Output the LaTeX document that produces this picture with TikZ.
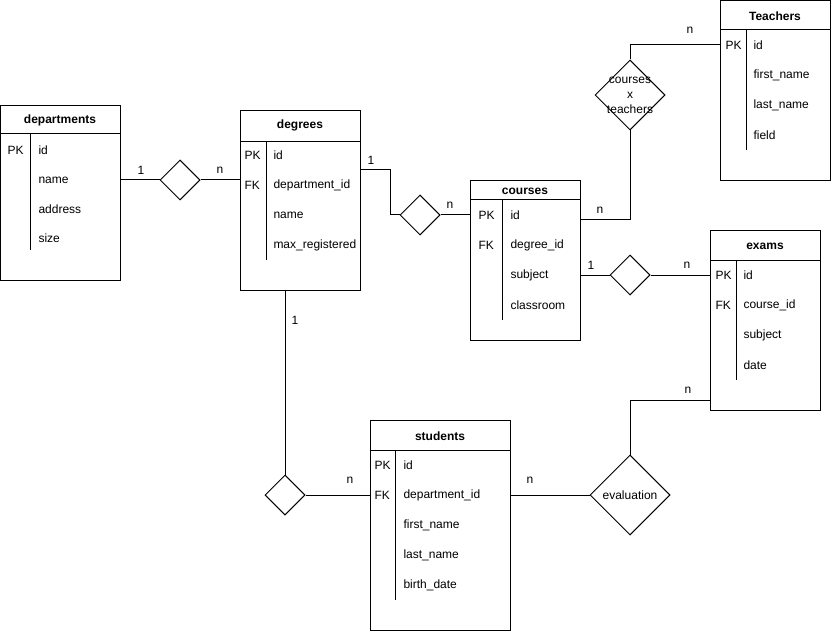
\documentclass[tikz,border=0pt]{standalone}
\usepackage{fontspec}
\setmainfont{Liberation Sans}
\usetikzlibrary{shapes.geometric}

\begin{document}
\begin{tikzpicture}[x=1bp,y=-1bp,line width=1bp,
  every node/.style={font=\fontsize{12bp}{15bp}\selectfont},
  tbl/.style={draw,rectangle,anchor=north west,inner sep=0pt},
  hdr/.style={font=\fontsize{12bp}{15bp}\selectfont\bfseries,inner sep=0pt},
  key/.style={anchor=west,inner sep=0pt},
  fld/.style={anchor=west,inner sep=0pt},
  rel/.style={draw,diamond,inner sep=0pt,minimum width=40bp,minimum height=40bp},
  card/.style={inner sep=0pt}]

\useasboundingbox (0,0) rectangle (831,631);

% departments
\node[tbl,minimum width=120bp,minimum height=175bp] (dep) at (0,105) {};
\node[hdr] (depT) at (60,120) {departments};
\draw (0,134) -- (120,134);
\draw (30,134) -- (30,250);
\node[key] (depPK) at (7,150) {PK};
\node[fld] (depId) at (38,150) {id};
\node[fld] (depName) at (38,180) {name};
\node[fld] (depAddr) at (38,209) {address};
\node[fld] (depSize) at (38,238) {size};

% degrees
\node[tbl,minimum width=120bp,minimum height=180bp] (deg) at (240,110) {};
\node[hdr] (degT) at (300,125) {degrees};
\draw (240,142) -- (360,142);
\draw (266,142) -- (266,260);
\node[key] (degPK) at (244,155) {PK};
\node[key] (degFK) at (244,185) {FK};
\node[fld] (degId) at (273,155) {id};
\node[fld] (degDept) at (273,185) {department\_id};
\node[fld] (degName) at (273,215) {name};
\node[fld] (degMax) at (273,245) {max\_registered};

% courses
\node[tbl,minimum width=110bp,minimum height=160bp] (crs) at (470,180) {};
\node[hdr] (crsT) at (525,191) {courses};
\draw (470,200) -- (580,200);
\draw (502,200) -- (502,320);
\node[key] (crsPK) at (478,215) {PK};
\node[key] (crsFK) at (478,245) {FK};
\node[fld] (crsId) at (510,215) {id};
\node[fld] (crsDeg) at (510,245) {degree\_id};
\node[fld] (crsSubj) at (510,275) {subject};
\node[fld] (crsRoom) at (510,305) {classroom};

% Teachers
\node[tbl,minimum width=110bp,minimum height=180bp] (tch) at (720,0) {};
\node[hdr] (tchT) at (775,16) {Teachers};
\draw (720,30) -- (830,30);
\draw (746,30) -- (746,150);
\node[key] (tchPK) at (725,45) {PK};
\node[fld] (tchId) at (753,45) {id};
\node[fld] (tchFirst) at (753,75) {first\_name};
\node[fld] (tchLast) at (753,105) {last\_name};
\node[fld] (tchField) at (753,135) {field};

% exams
\node[tbl,minimum width=110bp,minimum height=180bp] (exm) at (710,230) {};
\node[hdr] (exmT) at (765,246) {exams};
\draw (710,260) -- (820,260);
\draw (736,260) -- (736,380);
\node[key] (exmPK) at (715,275) {PK};
\node[key] (exmFK) at (715,305) {FK};
\node[fld] (exmId) at (743,275) {id};
\node[fld] (exmCrs) at (743,305) {course\_id};
\node[fld] (exmSubj) at (743,335) {subject};
\node[fld] (exmDate) at (743,365) {date};

% students
\node[tbl,minimum width=140bp,minimum height=210bp] (stu) at (370,420) {};
\node[hdr] (stuT) at (440,436) {students};
\draw (370,450) -- (510,450);
\draw (395,450) -- (395,600);
\node[key] (stuPK) at (374,465) {PK};
\node[key] (stuFK) at (374,495) {FK};
\node[fld] (stuId) at (403,465) {id};
\node[fld] (stuDept) at (403,495) {department\_id};
\node[fld] (stuFirst) at (403,525) {first\_name};
\node[fld] (stuLast) at (403,555) {last\_name};
\node[fld] (stuBirth) at (403,585) {birth\_date};

% relationships
\node[rel] (r1) at (180,180) {};
\node[rel] (r2) at (420,215) {};
\node[rel] (r3) at (630,275) {};
\node[rel] (r4) at (285,495) {};
\node[rel,minimum width=70bp,minimum height=70bp] (cxt) at (630,95) {};
\node[align=center,inner sep=0pt] (cxtT) at (cxt) {courses\\x\\teachers};
\node[rel,minimum width=80bp,minimum height=80bp] (evl) at (630,495) {evaluation};

\coordinate (degR) at (360,170);
\coordinate (degB) at (285,290);
\coordinate (crsR) at (580,220);
\coordinate (exmL) at (710,400);

% connectors
\draw (dep.east |- depName) -- (r1.west);
\draw (r1.east) -- (r1.east -| deg.west);
\draw (degR) -- ++(30,0) |- (r2.west);
\draw (r2.east) -- (r2.east -| crs.west);
\draw (cxt.north) |- (tch.west |- tchId);
\draw (cxt.south) |- (crsR);
\draw (crs.east |- r3) -- (r3.west);
\draw (r3.east) -- (r3.east -| exm.west);
\draw (exmL) -| (evl.north);
\draw (stu.east |- stuDept) -- (evl.west);
\draw (degB) -- (r4.north);
\draw (r4.east) -- (stu.west |- stuDept);

% cardinalities
\node[card] (c1) at (141,170) {1};
\node[card] (c2) at (220,170) {n};
\node[card] (c3) at (371,160) {1};
\node[card] (c4) at (450,205) {n};
\node[card] (c5) at (690,30) {n};
\node[card] (c6) at (600,210) {n};
\node[card] (c7) at (591,265) {1};
\node[card] (c8) at (687,265) {n};
\node[card] (c9) at (688,390) {n};
\node[card] (c10) at (295,320) {1};
\node[card] (c11) at (350,480) {n};
\node[card] (c12) at (530,480) {n};

\end{tikzpicture}
\end{document}
